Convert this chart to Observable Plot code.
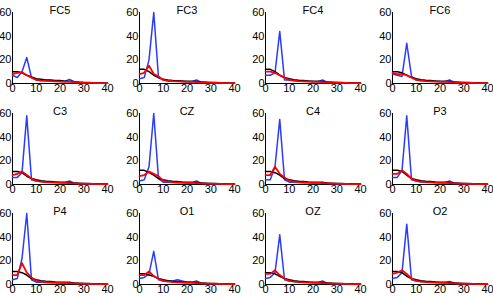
<!DOCTYPE html>
<html><head><meta charset="utf-8">
<script src="https://cdn.jsdelivr.net/npm/d3@7"></script>
<script src="https://cdn.jsdelivr.net/npm/@observablehq/plot@0.6"></script>
<style>
body{margin:0;background:#fff;width:493px;height:296px;overflow:hidden;position:relative;font-family:"Liberation Sans",Arial,sans-serif}
svg{position:absolute;overflow:visible}
</style></head><body><div id="c"></div>
<script>
const channels = ["FC5","FC3","FC4","FC6","C3","CZ","C4","P3","P4","O1","OZ","O2"];
const freqs = [0,2,4,6,8,10,12,14,16,18,20,22,24,26,28,30,32,34,36,38,40];
const xTicks = [0,10,20,30,40];
const yTicks = [0,20,40,60];

const blueSeries = [
  [7,5,10,22,5,3,2.5,2.5,2.5,2,2,2,3.5,1.5,1,0.6,0.5,0.4,0.3,0.3,0.2],
  [4,5,20,60,5,3,2,2,1.8,1.6,1.5,1.5,3,1.2,0.8,0.6,0.5,0.4,0.3,0.3,0.2],
  [7,7,9,44,3,3,2.5,2,2,1.8,1.6,1.5,3,1.2,0.8,0.6,0.5,0.4,0.3,0.3,0.2],
  [8,7,6,34,6,3,2.5,2.2,2,1.8,1.6,1.5,3,1.2,0.8,0.6,0.5,0.4,0.3,0.3,0.2],
  [6,6,10,58,4,3,2.5,2,2,1.8,1.6,1.5,3,1.2,0.8,0.6,0.5,0.4,0.3,0.3,0.2],
  [3,4,15,60,5,2,1.8,1.6,1.5,1.4,1.3,1.3,3,1.2,0.8,0.6,0.5,0.4,0.3,0.3,0.2],
  [4,4,15,55,4,2,1.8,1.6,1.5,1.4,1.3,1.3,2,1.1,0.8,0.6,0.5,0.4,0.3,0.3,0.2],
  [6,6,12,58,4,3,2.2,2,1.8,1.6,1.5,1.5,3,1.2,0.8,0.6,0.5,0.4,0.3,0.3,0.2],
  [4,5,22,60,4,2,1.8,1.6,1.5,1.4,1.3,1.3,2,1.1,0.8,0.6,0.5,0.4,0.3,0.3,0.2],
  [5,6,9,28,4,3,3,3,4,3,2,1.8,3,1.2,0.8,0.6,0.5,0.4,0.3,0.3,0.2],
  [5,6,10,42,4,3,2.5,2.2,2,1.8,1.6,1.5,3,1.2,0.8,0.6,0.5,0.4,0.3,0.3,0.2],
  [5,6,10,51,4,3,2.5,2.2,2,1.8,1.6,1.5,2.5,1.2,0.8,0.6,0.5,0.4,0.3,0.3,0.2]
];
const blackSeries = [
  [10,10,9,7,5.5,4,3.5,3,3,2.5,2.5,2,2,1.5,1.1,0.9,0.8,0.6,0.5,0.4,0.3],
  [12,12,10,7,5,3.5,3,2.6,2.4,2.2,2,1.8,1.6,1.3,1.1,0.9,0.8,0.7,0.6,0.5,0.4],
  [12,12,10,7,5,4,3.2,2.8,2.5,2.2,2,1.8,1.6,1.3,1.1,0.9,0.8,0.7,0.6,0.5,0.4],
  [10,10,9,7,5,4,3.2,2.8,2.5,2.2,2,1.8,1.6,1.3,1.1,0.9,0.8,0.7,0.6,0.5,0.4],
  [11,11,10,7,5,4,3.2,2.8,2.5,2.2,2,1.8,1.6,1.3,1.1,0.9,0.8,0.7,0.6,0.5,0.4],
  [12,12,10,8,5,4,3.2,2.8,2.5,2.2,2,1.8,1.6,1.3,1.1,0.9,0.8,0.7,0.6,0.5,0.4],
  [11,11,10,8,5,4,3.2,2.8,2.5,2.2,2,1.8,1.6,1.3,1.1,0.9,0.8,0.7,0.6,0.5,0.4],
  [12,12,11,8,5,4,3.2,2.8,2.5,2.2,2,1.8,1.6,1.3,1.1,0.9,0.8,0.7,0.6,0.5,0.4],
  [11,11,10,8,5,4,3.2,2.8,2.5,2.2,2,1.8,1.6,1.3,1.1,0.9,0.8,0.7,0.6,0.5,0.4],
  [9,9,8,7,5,4,3.2,2.8,2.5,2.2,2,1.8,1.6,1.3,1.1,0.9,0.8,0.7,0.6,0.5,0.4],
  [10,10,9,7,5,4,3.2,2.8,2.5,2.2,2,1.8,1.6,1.3,1.1,0.9,0.8,0.7,0.6,0.5,0.4],
  [11,11,10,7,5,4,3.2,2.8,2.5,2.2,2,1.8,1.6,1.3,1.1,0.9,0.8,0.7,0.6,0.5,0.4]
];
const redSeries = [
  [8,9,9.5,7,5,3,2.5,2.2,2,1.8,1.6,1.4,1.3,1.1,0.9,0.7,0.6,0.5,0.4,0.3,0.3],
  [8,9,15,8,6,3,2.4,2,1.8,1.6,1.4,1.3,1.2,1,0.8,0.7,0.6,0.5,0.4,0.3,0.3],
  [10,10,9,7,5,3,2.4,2,1.8,1.6,1.4,1.3,1.2,1,0.8,0.7,0.6,0.5,0.4,0.3,0.3],
  [9,8,8,7,5,3,2.4,2,1.8,1.6,1.4,1.3,1.2,1,0.8,0.7,0.6,0.5,0.4,0.3,0.3],
  [8,9,11,8,5,3,2.4,2,1.8,1.6,1.4,1.3,1.2,1,0.8,0.7,0.6,0.5,0.4,0.3,0.3],
  [7,8,11,9,7,3,2.4,2,1.8,1.6,1.4,1.3,1.2,1,0.8,0.7,0.6,0.5,0.4,0.3,0.3],
  [8,8,15,9,6,3,2.4,2,1.8,1.6,1.4,1.3,1.2,1,0.8,0.7,0.6,0.5,0.4,0.3,0.3],
  [9,9,12,9,5,3,2.4,2,1.8,1.6,1.4,1.3,1.2,1,0.8,0.7,0.6,0.5,0.4,0.3,0.3],
  [8,8,18,10,6,3,2.4,2,1.8,1.6,1.4,1.3,1.2,1,0.8,0.7,0.6,0.5,0.4,0.3,0.3],
  [8,8,11,7,5,3,2.4,2,1.8,1.6,1.4,1.3,1.2,1,0.8,0.7,0.6,0.5,0.4,0.3,0.3],
  [9,9,12,8,5,3,2.4,2,1.8,1.6,1.4,1.3,1.2,1,0.8,0.7,0.6,0.5,0.4,0.3,0.3],
  [9,10,12,9,5,3,2.4,2,1.8,1.6,1.4,1.3,1.2,1,0.8,0.7,0.6,0.5,0.4,0.3,0.3]
];

const container = document.getElementById("c");
channels.forEach((ch, i) => {
  const col = i % 4, row = Math.floor(i / 4);
  const toRows = arr => freqs.map((f, k) => ({f, v: arr[k]}));
  const p = Plot.plot({
    width: 127, height: 96,
    marginLeft: 12, marginRight: 20, marginTop: 12, marginBottom: 13,
    x: {domain: [0, 40]},
    y: {domain: [0, 60]},
    style: {fontSize: "11px", fontFamily: "'Liberation Sans', Arial, sans-serif", color: "#000", background: "transparent"},
    marks: [
      Plot.axisX({ticks: xTicks, tickSize: 0, tickPadding: 1, label: null, tickFormat: d => String(d)}),
      Plot.axisY({ticks: yTicks, tickSize: 0, tickPadding: 1, label: null, tickFormat: d => String(d)}),
      Plot.ruleX([0], {stroke: "#000", strokeWidth: 1}),
      Plot.ruleY([0], {stroke: "#000", strokeWidth: 1}),
      Plot.line(toRows(blueSeries[i]), {x: "f", y: "v", stroke: "#2a3cff", strokeWidth: 1.5}),
      Plot.line(toRows(blackSeries[i]), {x: "f", y: "v", stroke: "#000", strokeWidth: 1.5}),
      Plot.line(toRows(redSeries[i]), {x: "f", y: "v", stroke: "#ff0000", strokeWidth: 1.8}),
      Plot.text([ch], {frameAnchor: "top", dy: -6, text: d => d, fontSize: 11})
    ]
  });
  p.style.left = Math.round(col * 126.67) + "px";
  p.style.top = [0, 101, 201][row] + "px";
  container.appendChild(p);
});
</script></body></html>
